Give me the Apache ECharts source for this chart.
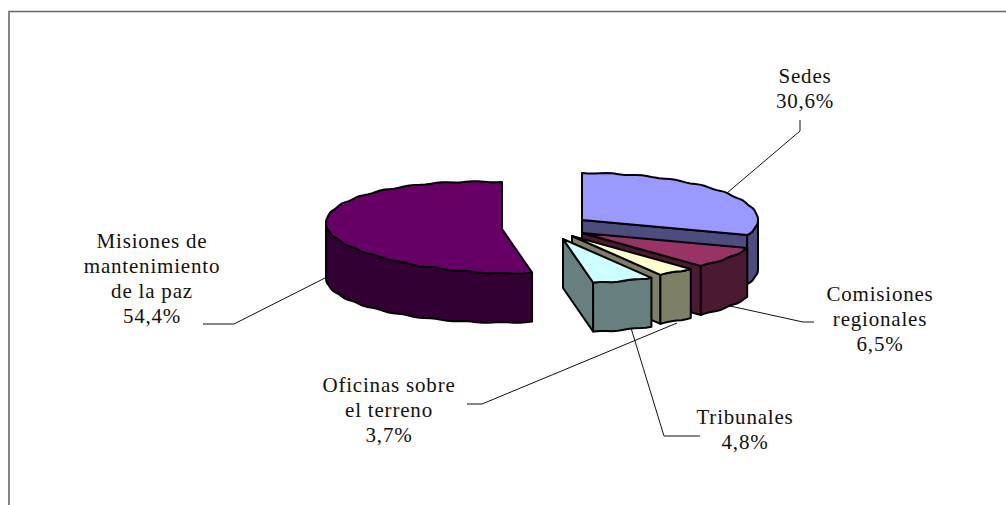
<!DOCTYPE html>
<html>
<head>
<meta charset="utf-8">
<style>
  html, body { margin: 0; padding: 0; background: #fff; }
  /* the svg text inherits this, the labels in the reference are spaced out */
  #chart { width: 1006px; height: 505px; letter-spacing: 0.8px; }
</style>
<script src="https://cdn.jsdelivr.net/npm/echarts@6/dist/echarts.min.js"></script>
</head>
<body>
<div id="chart"></div>
<script>
var categories = ['Sedes', 'Comisiones\nregionales', 'Tribunales', 'Oficinas sobre\nel terreno', 'Misiones de\nmantenimiento\nde la paz'];
var shares = [30.6, 6.5, 4.8, 3.7, 54.4];

var topColors = ['#9999FF', '#993366', '#FFFFCC', '#CCFFFF', '#660066'];
var sideColors = ['#4C4C7F', '#4C1933', '#7F7F66', '#667F7F', '#330033'];

// slice apex on screen (exploded), pie is tilted so the circle is an ellipse
var apexes = [[582, 220], [582, 233], [572, 236], [563, 239], [502, 229]];
var radiusX = 176, radiusYBack = 47, radiusYFront = 44.5, thickness = 49, leftLift = 6;
// the perspective of the old 3d chart shifts the front boundaries a few degrees
var boundaryNudge = [0, 0, 4, -1, 6, 0];

// label centre x, first baseline y
var labelPos = [[805, 82], [880, 300], [745, 423], [389, 391], [152, 247]];
var leaders = [
  [[800, 120], [800, 131], [727, 193]],
  [[814, 322], [803, 322], [730, 306]],
  [[700, 436], [664, 436], [631, 328]],
  [[467, 404], [482, 404], [677, 323]],
  [[203, 324], [234, 324], [327, 277]]
];

function arcPoint(apex, deg, isBase) {
  var a = deg * Math.PI / 180;
  var s = Math.sin(a), c = Math.cos(a);
  // small scallop, the outline of the reference is not a clean curve
  var ripple = Math.sin(deg * 0.55) * 0.5;
  var y = apex[1] - (c < 0 ? radiusYFront : radiusYBack) * c + ripple;
  if (isBase) {
    y += thickness;
  } else if (s < 0) {
    // far left of the top face sits a little higher than the apex
    y += leftLift * s;
  }
  return [apex[0] + radiusX * s, y];
}

function arcPoints(apex, from, to, isBase) {
  var pts = [], d;
  for (d = from; d < to; d += 2) { pts.push(arcPoint(apex, d, isBase)); }
  pts.push(arcPoint(apex, to, isBase));
  return pts;
}

function poly(points, fill) {
  return {
    type: 'polygon',
    shape: { points: points },
    style: { fill: fill, stroke: '#000', lineWidth: 2, lineJoin: 'round' }
  };
}

function sliceAngles(index) {
  var before = 0, i;
  for (i = 0; i < index; i++) { before += shares[i]; }
  return [
    before / 100 * 360 + boundaryNudge[index],
    (before + shares[index]) / 100 * 360 + boundaryNudge[index + 1]
  ];
}

function renderSlice(params, api) {
  var i = params.dataIndex;
  var angles = sliceAngles(i);
  var start = angles[0], end = angles[1];
  var apex = apexes[i];
  var children = [];

  // cut face at the end of the slice, only seen on the front right part
  if (end > 90 && end < 180) {
    var p = arcPoint(apex, end);
    children.push(poly([apex, p, arcPoint(apex, end, true), [apex[0], apex[1] + thickness]], sideColors[i]));
  }

  // outer rim, front half only
  var rimFrom = Math.max(start, 90), rimTo = Math.min(end, 270);
  if (rimFrom < rimTo) {
    children.push(poly(
      arcPoints(apex, rimFrom, rimTo).concat(arcPoints(apex, rimFrom, rimTo, true).reverse()),
      sideColors[i]
    ));
  }

  // top face
  children.push(poly([apex].concat(arcPoints(apex, start, end)), topColors[i]));

  return { type: 'group', children: children };
}

function labelText(i) {
  return categories[i] + '\n' + shares[i].toFixed(1).replace('.', ',') + '%';
}

var seriesData = shares.map(function(v, i) { return { name: categories[i], value: [v] }; });

var graphics = [{
  type: 'polyline',
  z: 0,
  shape: { points: [[9, 505], [9, 11.5], [1006, 11.5]] },
  style: { fill: 'none', stroke: '#666', lineWidth: 1.6 }
}];
leaders.forEach(function(line) {
  graphics.push({
    type: 'polyline',
    z: 0,
    shape: { points: line },
    style: { fill: 'none', stroke: '#111', lineWidth: 1 }
  });
});
labelPos.forEach(function(pos, i) {
  graphics.push({
    type: 'text',
    z: 10,
    x: pos[0],
    y: pos[1] - 19,
    style: {
      text: labelText(i),
      align: 'center',
      verticalAlign: 'top',
      fontFamily: '"Liberation Serif", serif',
      fontSize: 21,
      lineHeight: 25,
      fill: '#111'
    }
  });
});

var chart = echarts.init(document.getElementById('chart'), null, { renderer: 'svg' });
chart.setOption({
  animation: false,
  backgroundColor: '#fff',
  tooltip: { show: false },
  legend: { show: false },
  graphic: { elements: graphics },
  series: [
    {
      type: 'custom',
      coordinateSystem: 'none',
      renderItem: renderSlice,
      z: 5,
      silent: true,
      data: seriesData
    }
  ]
});
</script>
</body>
</html>
